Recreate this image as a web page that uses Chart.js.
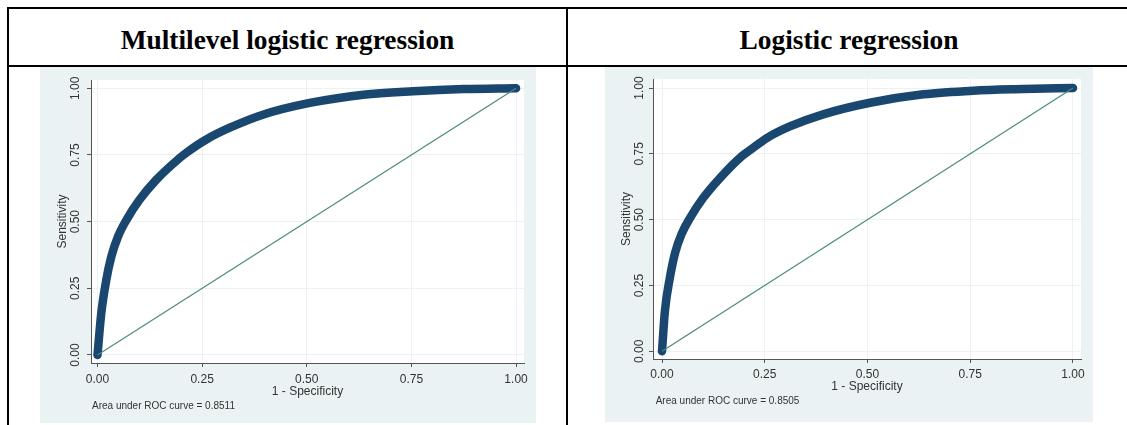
<!DOCTYPE html>
<html>
<head>
<meta charset="utf-8">
<title>ROC curves</title>
<script src="https://cdn.jsdelivr.net/npm/chart.js@4.4.1/dist/chart.umd.min.js"></script>
<style>
    body { margin: 0; background: #fff; width: 1127px; height: 425px; overflow: hidden; position: relative; }
    .rule { position: absolute; background: #000; }
    .head { position: absolute; top: 12px; height: 53px; text-align: center; color: #000;
            font: bold 27.4px 'Liberation Serif', 'Times New Roman', serif; line-height: 56px; }
    .panel { position: absolute; }
</style>
</head>
<body>
<div class="rule" style="left:7px; top:7px; width:1120px; height:2px;"></div>
<div class="rule" style="left:7px; top:65px; width:1120px; height:2px;"></div>
<div class="rule" style="left:7px; top:7px; width:2px; height:418px;"></div>
<div class="rule" style="left:566px; top:7px; width:2px; height:418px;"></div>

<div class="head" style="left:9px; width:557px;">Multilevel logistic regression</div>
<div class="head" style="left:568px; width:562px;">Logistic regression</div>

<div class="panel" style="left:40px; top:67px;"><canvas id="rocMulti" width="496" height="356"></canvas></div>
<div class="panel" style="left:605px; top:67px;"><canvas id="rocLogit" width="488" height="355"></canvas></div>

<script>
// Axis ticks (same on both axes)
const tickValues = [0, 0.25, 0.5, 0.75, 1];
const tickLabels = ['0.00', '0.25', '0.50', '0.75', '1.00'];

// Multilevel logistic regression: 1 - specificity / sensitivity
const multiFpr = [0, 0.009, 0.021, 0.033, 0.049, 0.069, 0.100, 0.140, 0.196, 0.212, 0.260, 0.316, 0.395, 0.507, 0.635, 0.754, 0.874, 1];
const multiTpr = [0, 0.156, 0.281, 0.369, 0.444, 0.506, 0.581, 0.656, 0.738, 0.758, 0.808, 0.852, 0.901, 0.945, 0.976, 0.989, 0.997, 1];
const multiAuc = 'Area under ROC curve = 0.8511';

// Logistic regression
const logitFpr = [0, 0.007, 0.019, 0.032, 0.048, 0.068, 0.100, 0.141, 0.194, 0.214, 0.255, 0.311, 0.392, 0.506, 0.636, 0.757, 0.879, 1];
const logitTpr = [0, 0.152, 0.278, 0.375, 0.447, 0.506, 0.582, 0.658, 0.741, 0.764, 0.810, 0.854, 0.900, 0.944, 0.976, 0.990, 0.996, 1];
const logitAuc = 'Area under ROC curve = 0.8505';

// Reference diagonal
const refLine = [0, 1];

const NAVY = '#1a476f';
const TEAL = '#4a8b7b';
const PANEL_BG = '#eaf2f3';
const AXIS = '#555555';
const TEXT = '#333333';
const SANS = "'Liberation Sans', Arial, sans-serif";

// Light blue graph region, white plot region
const panelBackground = {
    id: 'panelBackground',
    beforeDraw(chart) {
        const { ctx, chartArea: a } = chart;
        ctx.save();
        ctx.fillStyle = PANEL_BG;
        ctx.fillRect(0, 0, chart.width, chart.height);
        ctx.fillStyle = '#ffffff';
        ctx.fillRect(a.left, a.top, a.right - a.left, a.bottom - a.top);
        ctx.restore();
    }
};

// "Area under ROC curve" note under the x axis
const rocNote = {
    id: 'rocNote',
    afterDraw(chart, args, opts) {
        const { ctx, chartArea: a } = chart;
        ctx.save();
        ctx.font = '10px ' + SANS;
        ctx.fillStyle = TEXT;
        ctx.textAlign = 'left';
        ctx.textBaseline = 'middle';
        ctx.fillText(opts.text, a.left + opts.dx, a.bottom + opts.dy);
        ctx.restore();
    }
};

function rocChart(id, fpr, tpr, note, g) {
    const points = fpr.map((x, i) => ({ x: x, y: tpr[i] }));
    const diag = refLine.map(v => ({ x: v, y: v }));

    return new Chart(document.getElementById(id), {
        type: 'scatter',
        data: {
            datasets: [
                { data: diag, showLine: true, borderColor: TEAL, borderWidth: 1.2, pointRadius: 0, order: 0 },
                {
                    data: points, showLine: true, borderColor: NAVY, borderWidth: 8.5,
                    borderCapStyle: 'round', borderJoinStyle: 'round',
                    cubicInterpolationMode: 'monotone', pointRadius: 0, order: 1
                }
            ]
        },
        options: {
            responsive: false,
            animation: false,
            events: [],
            layout: { padding: { left: 0, top: g.top, right: g.right, bottom: 0 } },
            plugins: {
                legend: { display: false },
                tooltip: { enabled: false },
                rocNote: { text: note, dx: g.noteDx, dy: g.noteDy }
            },
            scales: {
                x: {
                    type: 'linear',
                    min: g.xMin, max: g.xMax,
                    afterBuildTicks: s => { s.ticks = tickValues.map(v => ({ value: v })); },
                    afterFit: s => { s.height = g.xAxis; },
                    ticks: {
                        autoSkip: false, maxRotation: 0, padding: g.xTickPad, color: TEXT,
                        font: { family: SANS, size: 12 },
                        callback: v => tickLabels[tickValues.indexOf(v)]
                    },
                    grid: { color: PANEL_BG, tickColor: AXIS, tickLength: 4 },
                    border: { color: AXIS, width: 1 },
                    title: {
                        display: true, text: '1 - Specificity', color: TEXT,
                        font: { family: SANS, size: 12 },
                        padding: { top: 0, bottom: g.xTitlePad }
                    }
                },
                y: {
                    type: 'linear',
                    min: g.yMin, max: g.yMax,
                    afterBuildTicks: s => { s.ticks = tickValues.map(v => ({ value: v })); },
                    afterFit: s => { s.width = g.yAxis; },
                    ticks: {
                        autoSkip: false, minRotation: 90, maxRotation: 90, crossAlign: 'center',
                        padding: g.yTickPad, color: TEXT,
                        font: { family: SANS, size: 12 },
                        callback: v => tickLabels[tickValues.indexOf(v)]
                    },
                    grid: { color: PANEL_BG, tickColor: AXIS, tickLength: 4 },
                    border: { color: AXIS, width: 1 },
                    title: {
                        display: true, text: 'Sensitivity', color: TEXT,
                        font: { family: SANS, size: 12 },
                        padding: { top: g.yTitlePad, bottom: 0 }
                    }
                }
            }
        },
        plugins: [panelBackground, rocNote]
    });
}

rocChart('rocMulti', multiFpr, multiTpr, multiAuc, {
    top: 13, right: 12, yAxis: 51, xAxis: 60,
    xMin: -0.0155, xMax: 1.019, yMin: -0.030, yMax: 1.031,
    xTickPad: 5, xTitlePad: 24, yTickPad: -0.5, yTitlePad: 15.3,
    noteDx: 1, noteDy: 43.7
});

rocChart('rocLogit', logitFpr, logitTpr, logitAuc, {
    top: 12, right: 12, yAxis: 48, xAxis: 63,
    xMin: -0.0219, xMax: 1.0195, yMin: -0.0292, yMax: 1.0342,
    xTickPad: 4.3, xTitlePad: 27.8, yTickPad: -2, yTitlePad: 14.5,
    noteDx: 2.7, noteDy: 42.7
});
</script>
</body>
</html>
